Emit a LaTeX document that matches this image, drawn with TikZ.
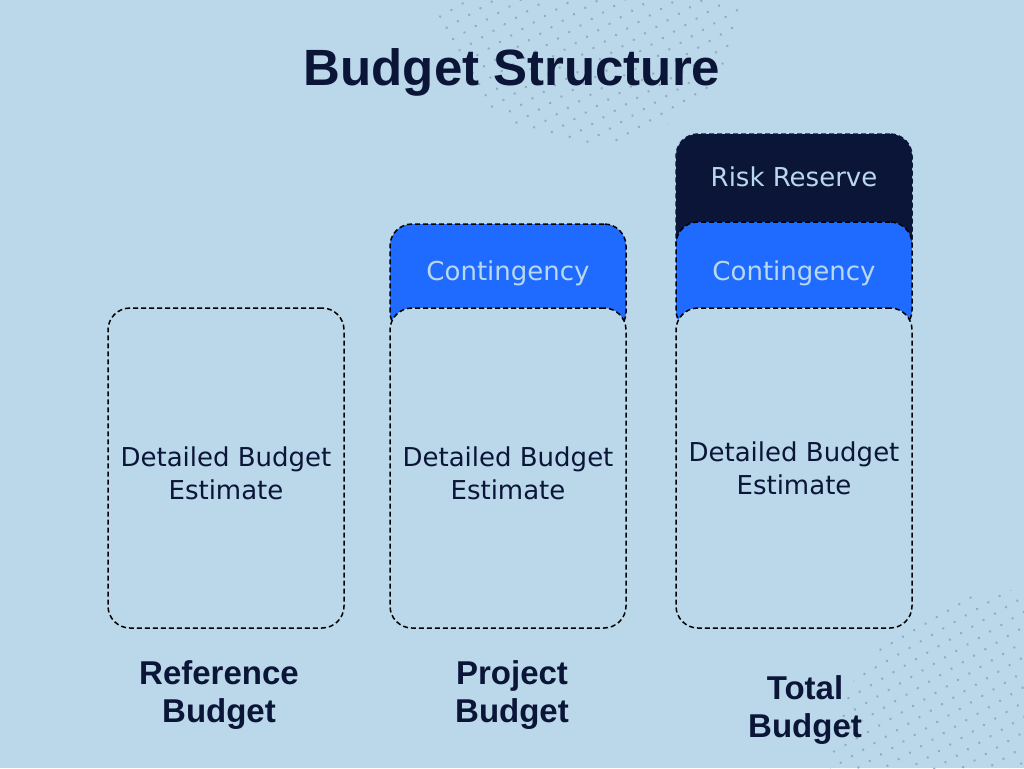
\documentclass[tikz,border=0pt]{standalone}
\usepackage{fontspec}
\setmainfont{DejaVu Sans}
\newfontfamily\headfont{Liberation Sans}
\usetikzlibrary{positioning}
\definecolor{bgblue}{HTML}{BAD8EA}
\definecolor{navy}{HTML}{0B1538}
\definecolor{brightblue}{HTML}{1F6BFF}
\definecolor{paleblue}{HTML}{B9D8EE}
\definecolor{dotgray}{HTML}{94AAC2}
\tikzset{
    part/.style = {draw = black, dash pattern = on 5pt off 3pt, line width = 1.5pt,
        rounded corners = 22pt, minimum width = 236pt, inner sep = 0pt},
    detailbox/.style = {part, fill = bgblue, minimum height = 320pt},
    contbox/.style = {part, fill = brightblue, minimum height = 110pt},
    riskbox/.style = {part, draw = navy, fill = navy, minimum height = 130pt},
    boxtext/.style = {font = \fontsize{26}{33}\selectfont, text = navy, align = center},
    toptext/.style = {font = \fontsize{26}{30}\selectfont, text = paleblue},
    caption/.style = {font = \headfont\bfseries\fontsize{33}{38}\selectfont, text = navy, align = center},
}
\begin{document}
\begin{tikzpicture}[x = 1pt, y = -1pt]
        \useasboundingbox (0,0) rectangle (1024,768);
        \fill [bgblue] (0,0) rectangle (1024,768);
        % dotted decorations
        \begin{scope}
            \clip (590,-10) circle (155pt);
            \begin{scope}[shift = {(590,-10)}, rotate = 30]
                \foreach \i in {-13,...,13}
                    \foreach \j in {-13,...,13}
                        \fill [dotgray] (\i*13,\j*13) circle (1.4pt);
            \end{scope}
        \end{scope}
        \begin{scope}
            \clip (1010,770) circle (180pt);
            \begin{scope}[shift = {(1010,770)}, rotate = 30]
                \foreach \i in {-14,...,14}
                    \foreach \j in {-14,...,14}
                        \fill [dotgray] (\i*13,\j*13) circle (1.4pt);
            \end{scope}
        \end{scope}
        \node [font = \headfont\bfseries\fontsize{51}{60}\selectfont, text = navy] (title) at (512,72) {Budget Structure};
        % columns
        \node [riskbox] (risk) at (794,199) {};
        \node [contbox] (cont2) at (508,279) {};
        \node [contbox] (cont3) at (794,277) {};
        \node [detailbox] (ref) at (226,468) {};
        \node [detailbox] (proj) at (508,468) {};
        \node [detailbox] (total) at (794,468) {};
        \node [toptext] (risktext) at ([yshift = -44pt]risk.north) {Risk Reserve};
        \node [toptext] (cont2text) at ([yshift = -50pt]cont2.north) {Contingency};
        \node [toptext] (cont3text) at ([yshift = -52pt]cont3.north) {Contingency};
        \node [boxtext] (reftext) at ([yshift = -5pt]ref.center) {Detailed Budget\\Estimate};
        \node [boxtext] (projtext) at ([yshift = -5pt]proj.center) {Detailed Budget\\Estimate};
        \node [boxtext] (totaltext) at (total.center) {Detailed Budget\\Estimate};
        % captions
        \node [caption] (refcap) at ([xshift = -7pt, yshift = -66pt]ref.south) {Reference\\Budget};
        \node [caption] (projcap) at ([xshift = 4pt, yshift = -66pt]proj.south) {Project\\Budget};
        \node [caption] (totalcap) at ([xshift = 11pt, yshift = -81pt]total.south) {Total\\Budget};
    \end{tikzpicture}
\end{document}
